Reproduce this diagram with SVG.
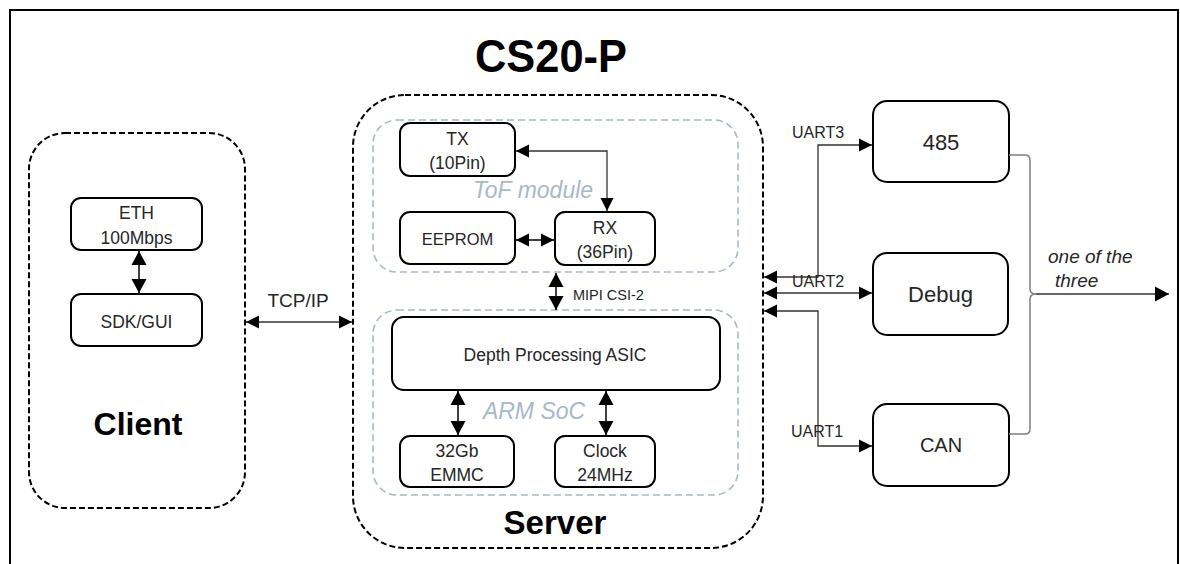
<svg xmlns="http://www.w3.org/2000/svg" width="1180" height="564" viewBox="0 0 1180 564">
<style>
.box{fill:#fff;stroke:#000;stroke-width:2}
.cont{fill:none;stroke:#000;stroke-width:2;stroke-dasharray:6 3}
.sub{fill:none;stroke:#a9b8cc;stroke-width:1.6;stroke-dasharray:7 4}
.t{font-family:"Liberation Sans",Arial,sans-serif;fill:#262626;text-anchor:middle}
.lbl{font-family:"Liberation Sans",Arial,sans-serif;fill:#262626}
.big{font-family:"Liberation Sans",Arial,sans-serif;font-weight:bold;fill:#000;text-anchor:middle}
.ghost{font-family:"Liberation Sans",Arial,sans-serif;font-style:italic;fill:#a9b8cc;text-anchor:middle;font-size:23px}
.ln{fill:none;stroke:#000;stroke-width:1.5}
.thin{fill:none;stroke:#333;stroke-width:1.3}
.gray{fill:none;stroke:#7f7f7f;stroke-width:1.5}
</style>
<defs>
<marker id="ah" markerUnits="userSpaceOnUse" markerWidth="14" markerHeight="14" refX="13" refY="7" orient="auto-start-reverse" viewBox="0 0 14 14">
<path d="M0,0.5 L13,7 L0,13.5 z" fill="#000"/>
</marker>
<marker id="ahb" markerUnits="userSpaceOnUse" markerWidth="15" markerHeight="16" refX="14" refY="8" orient="auto-start-reverse" viewBox="0 0 15 16">
<path d="M0,0.5 L14,8 L0,15.5 z" fill="#000"/>
</marker>
</defs>
<rect x="10" y="10" width="1168" height="600" fill="none" stroke="#000" stroke-width="2"/>
<text x="551" y="72" class="big" font-size="46" textLength="152" lengthAdjust="spacingAndGlyphs">CS20-P</text>

<g id="client">
<rect class="cont" x="29" y="133" width="216" height="375" rx="36"/>
<text class="big" x="138" y="435" font-size="32">Client</text>
</g>
<g id="eth">
<rect class="box" x="71" y="198" width="131" height="52" rx="10"/>
<text class="t" x="136.5" y="219" font-size="17.5">ETH</text>
<text class="t" x="136.5" y="244" font-size="17.5">100Mbps</text>
</g>
<g id="sdk">
<rect class="box" x="71" y="294" width="131" height="52" rx="10"/>
<text class="t" x="136.5" y="328" font-size="17.5">SDK/GUI</text>
</g>

<g id="server">
<rect class="cont" x="353" y="95" width="410" height="453" rx="52"/>
<text class="big" x="555" y="534" font-size="33">Server</text>
</g>
<g id="tof">
<rect class="sub" x="373" y="120" width="365" height="152" rx="24"/>
<text class="ghost" x="533" y="198">ToF module</text>
</g>
<g id="arm">
<rect class="sub" x="373" y="310" width="365" height="185" rx="24"/>
<text class="ghost" x="534" y="419">ARM SoC</text>
</g>
<g id="tx">
<rect class="box" x="400" y="123" width="115" height="53" rx="10"/>
<text class="t" x="457.5" y="145" font-size="17.5">TX</text>
<text class="t" x="457.5" y="169" font-size="17.5">(10Pin)</text>
</g>
<g id="eeprom">
<rect class="box" x="400" y="212" width="115" height="52" rx="10"/>
<text class="t" x="457.5" y="245" font-size="16.5">EEPROM</text>
</g>
<g id="rx">
<rect class="box" x="555" y="212" width="100" height="53" rx="10"/>
<text class="t" x="605" y="234" font-size="17.5">RX</text>
<text class="t" x="605" y="258" font-size="17.5">(36Pin)</text>
</g>
<g id="asic">
<rect class="box" x="392" y="317" width="328" height="73" rx="12"/>
<text class="t" x="555" y="361" font-size="17.5">Depth Processing ASIC</text>
</g>
<g id="emmc">
<rect class="box" x="400" y="436" width="114" height="51" rx="10"/>
<text class="t" x="457" y="457" font-size="17.5">32Gb</text>
<text class="t" x="457" y="481" font-size="17.5">EMMC</text>
</g>
<g id="clock">
<rect class="box" x="555" y="436" width="100" height="51" rx="10"/>
<text class="t" x="605" y="457" font-size="17.5">Clock</text>
<text class="t" x="605" y="481" font-size="17.5">24MHz</text>
</g>

<g id="n485">
<rect class="box" x="873" y="101" width="136" height="81" rx="14"/>
<text class="t" x="941" y="150" font-size="22">485</text>
</g>
<g id="debug">
<rect class="box" x="873" y="253" width="135" height="82" rx="14"/>
<text class="t" x="940.5" y="302" font-size="22">Debug</text>
</g>
<g id="can">
<rect class="box" x="873" y="404" width="136" height="82" rx="14"/>
<text class="t" x="941" y="452" font-size="20">CAN</text>
</g>

<g id="connectors">
<line class="ln" x1="139" y1="251" x2="139" y2="293" marker-start="url(#ahb)" marker-end="url(#ahb)"/>
<line class="thin" x1="246" y1="322" x2="352" y2="322" marker-start="url(#ah)" marker-end="url(#ah)"/>
<text class="t" x="298" y="307" font-size="19">TCP/IP</text>
<path class="thin" d="M516,151 H607 V211" marker-start="url(#ah)" marker-end="url(#ah)"/>
<line class="ln" x1="516" y1="240" x2="554" y2="240" marker-start="url(#ah)" marker-end="url(#ah)"/>
<line class="ln" x1="556" y1="273" x2="556" y2="310" marker-start="url(#ahb)" marker-end="url(#ahb)"/>
<text class="lbl" x="573" y="300" font-size="14.5">MIPI CSI-2</text>
<line class="ln" x1="458" y1="391" x2="458" y2="435" marker-start="url(#ahb)" marker-end="url(#ahb)"/>
<line class="ln" x1="606" y1="391" x2="606" y2="435" marker-start="url(#ahb)" marker-end="url(#ahb)"/>

<path class="thin" d="M764,277 H818 V145 H872" marker-start="url(#ah)" marker-end="url(#ah)"/>
<line class="thin" x1="764" y1="293" x2="872" y2="293" marker-start="url(#ah)" marker-end="url(#ah)"/>
<path class="thin" d="M764,311 H818 V446 H872" marker-start="url(#ah)" marker-end="url(#ah)"/>
<text class="lbl" x="792" y="138" font-size="16">UART3</text>
<text class="lbl" x="792" y="287" font-size="16">UART2</text>
<text class="lbl" x="791" y="437" font-size="16">UART1</text>

<path class="gray" d="M1009,155 H1025 Q1030,155 1030,160 V289 Q1030,294 1036,294 Q1030,294 1030,299 V429 Q1030,434 1025,434 H1009"/>
<line class="thin" x1="1036" y1="294" x2="1169" y2="294" marker-end="url(#ahb)"/>
<text class="lbl" x="1048" y="263" font-size="19" font-style="italic">one of the</text>
<text class="lbl" x="1055" y="287" font-size="19" font-style="italic">three</text>
</g>
</svg>
